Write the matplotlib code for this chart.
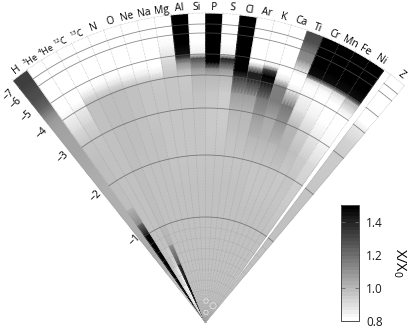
import numpy as np
import matplotlib
matplotlib.use("Agg")
import matplotlib.pyplot as plt

plt.rcParams['font.family'] = ['Open Sans', 'DejaVu Sans']
plt.rcParams['mathtext.default'] = 'regular'

# log abundance levels, top of the fan first
levels = [-8, -7, -6, -5.5, -5, -4.8, -4.6, -4.3, -4, -3.5, -3, -2.5, -2, -1.5, -1.2, -1, -0.8, -0.6, -0.4, -0.2, 0]
# radius of the log levels on the picture
scale_log = [-8, -7, -6, -5, -4, -3, -2, -1, 0]
scale_r = [308, 298, 289, 268, 247, 214, 167, 105, 0]

H = [1.33, 1.33, 1.30, 1.28, 1.22, 1.18, 1.13, 1.08, 1.06, 1.05, 1.05, 1.03, 1.02, 1.02, 1.02, 1.03, 1.03, 1.00, 0.95, 0.90, 1.00]
He3 = [.8, .8, .8, .8, .8, .8, .8, .8, .83, .90, .96, .98, .98, .98, 1.15, 1.48, 1.5, 1.5, 1.5, 1.48, 1.10]
He4 = [.8, .8, .8, .8, .8, .8, .8, .8, .85, .92, .96, .97, .97, .97, .97, .97, .97, .97, .88, .80, 1.0]
C12 = [.8, .8, .8, .8, .8, .8, .82, .90, .97, .97, .97, .97, .97, .97, .97, .97, .97, .90, .82, .80, .90]
C13 = [.8, .8, .8, .8, .8, .8, .82, .90, .98, .98, .98, .98, .98, .98, .98, .98, 1.02, 1.35, 1.5, 1.5, 1.30]
N = [.8, .8, .8, .8, .8, .8, .82, .90, .98, .98, .98, .98, .97, .97, .97, .97, .97, .97, .97, .97, 1.0]
O = [.8, .8, .8, .8, .8, .8, .81, .88, .97, .97, .97, .97, .97, .97, .97, .97, .97, .97, .97, .97, 1.0]
Ne = [.8, .8, .8, .8, .8, .8, .81, .87, .96, .96, .96, .97, .97, .97, .97, .97, .97, .97, .97, .97, 1.0]
Na = [.8, .8, .8, .8, .8, .8, .80, .85, .95, .96, .96, .96, .96, .97, .97, .97, .97, .97, .97, .97, 1.0]
Mg = [.8, .8, .8, .82, .88, .90, .92, .94, .96, .96, .96, .96, .96, .97, .97, .97, .97, .97, .97, .97, 1.0]
Al = [1.5, 1.5, 1.5, 1.5, 1.45, 1.25, 1.1, 1.0, .95, .96, .96, .96, .96, .97, .97, .97, .97, .97, .97, .97, 1.0]
Si = [.8, .8, .8, .8, .85, 1.28, 1.2, 1.08, 1.0, .97, .96, .96, .96, .97, .97, .97, .97, .97, .97, .97, 1.0]
P = [1.5, 1.5, 1.5, 1.5, 1.5, 1.5, 1.5, 1.15, 1.0, .96, .95, .95, .96, .97, .97, .97, .97, .97, .97, .97, 1.0]
S = [.8, .8, .8, .8, .85, 1.4, 1.3, 1.1, 1.0, .94, .94, .95, .96, .97, .97, .97, .97, .97, .97, .97, 1.0]
Cl = [1.5, 1.5, 1.5, 1.5, 1.5, 1.5, 1.5, 1.5, 1.35, 1.08, 1.0, .97, .96, .97, .97, .97, .97, .97, .97, .97, 1.0]
Ar = [.8, .8, .8, .8, .8, .8, 1.0, 1.42, 1.4, 1.08, 1.0, .98, .96, .97, .97, .97, .97, .97, .97, .97, 1.0]
K = [.8, .8, .8, .8, .8, .85, 1.3, 1.5, 1.45, 1.18, 1.08, 1.0, .96, .97, .97, .97, .97, .97, .97, .97, 1.0]
Ca = [.8, .8, .8, .8, .8, .8, .8, .88, 1.15, 1.16, 1.04, 1.0, .96, .96, .97, .97, .97, .97, .97, .97, 1.0]
Ti = [1.3, 1.28, 1.15, 1.1, .85, .8, .8, .8, .85, 1.18, 1.1, 1.0, .96, .96, .97, .97, .97, .97, .97, .97, 1.0]
Cr = [1.5, 1.5, 1.5, 1.5, 1.45, .9, .82, .8, .82, .88, 1.0, 1.01, .96, .96, .97, .97, .97, .97, .97, .97, 1.0]
Mn = [1.5, 1.5, 1.5, 1.5, 1.45, .9, .82, .8, .8, .84, .92, .98, .95, .96, .97, .97, .97, .97, .97, .97, 1.0]
Fe = [1.5, 1.5, 1.5, 1.5, 1.45, .92, .85, .8, .8, .8, .86, .94, .96, .96, .97, .97, .97, .97, .97, .97, 1.0]
Ni = [1.5, 1.5, 1.5, 1.5, 1.45, 1.0, .95, .85, .8, .8, .82, .90, .93, .95, .96, .97, .97, .97, .97, .97, 1.0]
Z = [.8, .8, .8, .8, .8, .8, .8, .8, .86, .92, .94, .95, .96, .97, .97, .97, .97, .97, .97, .97, 1.0]

columns = [H, He3, He4, C12, C13, N, O, Ne, Na, Mg, Al, Si, P, S, Cl, Ar, K, Ca, Ti, Cr, Mn, Fe, Ni]
names = ['H', '$^{3}$He', '$^{4}$He', '$^{12}$C', '$^{13}$C', 'N', 'O', 'Ne', 'Na', 'Mg', 'Al', 'Si', 'P', 'S',
         'Cl', 'Ar', 'K', 'Ca', 'Ti', 'Cr', 'Mn', 'Fe', 'Ni']

tick_logs = [-7, -6, -5, -4, -3, -2, -1]
tick_text = ['\u22127', '\u22126', '\u22125', '\u22124', '\u22123', '\u22122', '\u22121']
dotted_logs = [-0.9, -0.8, -0.7, -0.6, -0.5, -0.4, -0.3, -0.2, -0.1]

# the three hollow circles near the apex
circle_theta = [1.4, 25, 3]
circle_log = [-0.2, -0.17, -0.09]


def to_r(v):
    return np.interp(v, scale_log, scale_r)


W, Hp = 415, 329
R = 335
ax_x, ax_y = 205.5, 322

fig = plt.figure(figsize=(W / 100, Hp / 100), dpi=100)
ax = fig.add_axes([(ax_x - R) / W, (Hp - ax_y - R) / Hp, 2 * R / W, 2 * R / Hp], projection='polar')
ax.set_theta_zero_location('N')
ax.set_theta_direction(-1)
ax.set_ylim(0, R)
ax.set_axis_off()

start = -38.5
step = 3.21
z_start = 36.8
z_end = 40.1
radii = to_r(levels)


def draw_column(t0, t1, vals):
    th = np.radians(np.linspace(t0, t1, 5))
    tt, rr = np.meshgrid(th, radii)
    cc = np.tile(np.array(vals)[:, None], (1, 5))
    ax.pcolormesh(tt, rr, cc, shading='gouraud', cmap='gray_r', vmin=0.8, vmax=1.5)


for i, col in enumerate(columns):
    draw_column(start + i * step, start + (i + 1) * step, col)
draw_column(z_start, z_end, Z)

end = start + len(columns) * step

# dotted column edges
for e in [start + i * step for i in range(len(columns) + 1)] + [z_start, z_end]:
    ax.plot(np.radians([e, e]), [0, 310], ls=':', color='0.6', lw=0.4)

# dotted arcs
for lv in dotted_logs:
    for a, b in [(start, end), (z_start, z_end)]:
        th = np.radians(np.linspace(a, b, 80))
        ax.plot(th, np.full(80, to_r(lv)), ls=':', color='0.6', lw=0.4)
th = np.radians(np.linspace(start, z_end, 120))
ax.plot(th, np.full(120, 309), ls=':', color='0.6', lw=0.4)

# solid log arcs
for lv in tick_logs:
    for a, b in [(start + step, end), (z_start, z_end)]:
        th = np.radians(np.linspace(a, b, 80))
        ax.plot(th, np.full(80, to_r(lv)), color='0.35', lw=0.6, alpha=0.7)

ax.scatter(np.radians(circle_theta), to_r(circle_log), s=[10, 20, 10], facecolors='none',
           edgecolors='0.92', linewidths=0.5, zorder=5)

# element labels along the rim
for i, name in enumerate(names):
    mid = start + (i + 0.5) * step
    size = 6.5 if name.startswith('$') else 7.5
    ax.text(np.radians(mid), 315, name, rotation=-mid, rotation_mode='anchor', ha='center', va='center',
            fontsize=size, color='black')
zmid = (z_start + z_end) / 2
ax.text(np.radians(zmid), 315, 'Z', rotation=-zmid, rotation_mode='anchor', ha='center', va='center',
        fontsize=7.5, color='black')

# log labels on the left edge
label_r = [300, 290, 272, 250, 218, 167, 108]
for r, txt in zip(label_r, tick_text):
    t = -40.9
    ax.text(np.radians(t), r, txt, rotation=45, rotation_mode='anchor', ha='center', va='center',
            fontsize=7.5, color='black')

# colour bar
cax = fig.add_axes([341 / W, (Hp - 321) / Hp, 18 / W, 116 / Hp])
sm = plt.cm.ScalarMappable(norm=plt.Normalize(0.8, 1.5), cmap=plt.get_cmap('gray_r', 32))
cb = fig.colorbar(sm, cax=cax, ticks=[0.8, 1.0, 1.2, 1.4])
cb.ax.tick_params(direction='in', left=True, right=True, length=3, width=0.6, color='0.4',
                  labelsize=8.5, pad=5, labelcolor='0.1')
cb.outline.set_linewidth(0.7)
cb.outline.set_edgecolor('0.3')
cb.set_label('X/X$_0$', rotation=270, fontsize=10.5, labelpad=18)

fig.savefig('out.png', dpi=100)
